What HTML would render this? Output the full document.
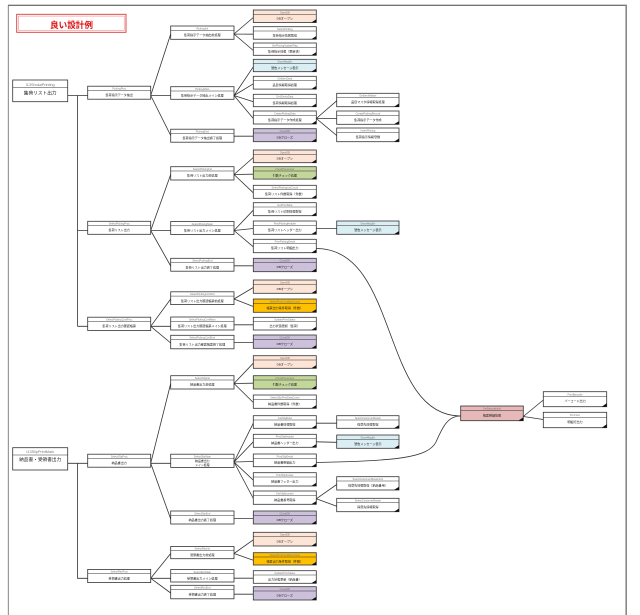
<!DOCTYPE html>
<html><head><meta charset="utf-8">
<style>
html,body{margin:0;padding:0;background:#fff;}
svg{display:block;font-family:"Liberation Sans","Noto Sans CJK JP",sans-serif;}
.r{stroke:#333;stroke-width:.8}
.l{stroke:#333;stroke-width:.8;fill:none}
.s{stroke:#333;stroke-width:.5;fill:none}
.h{font-size:2.6px;fill:#777;text-anchor:middle}
.b{font-size:3.05px;fill:#222;text-anchor:middle}
.t{fill:#111}
</style></head><body>
<svg width="640" height="615" viewBox="0 0 640 615">
<rect width="640" height="615" fill="#fff"/>
<!-- frame -->
<line x1="8" y1="5.2" x2="627" y2="5.2" stroke="#444" stroke-width="1"/>
<line x1="8.3" y1="5" x2="8.3" y2="615" stroke="#777" stroke-width="0.9"/>
<line x1="626.2" y1="5" x2="626.2" y2="615" stroke="#888" stroke-width="1.6"/>

<!-- title -->
<rect x="16.7" y="14.3" width="109.3" height="18" fill="#fff" stroke="#d83a3a" stroke-width="0.9"/>
<rect x="18.5" y="16.1" width="105.7" height="14.4" fill="none" stroke="#e77" stroke-width="0.5"/>
<text x="71.5" y="27.8" font-size="8.6" font-weight="bold" fill="#e01010" text-anchor="middle" font-family="'Liberation Sans','Noto Sans CJK JP',sans-serif">良い設計例</text>

<!-- connectors -->
<g class="l">
<path d="M67.7,95.5H87.7M77.5,95.5V326.3M77.5,230.5H87.7M77.5,326.3H87.7"/>
<path d="M67.7,463.3H87.7M77.5,463.3V578.3H87.7"/>
<!-- L2 -> L3 -->
<path d="M150.7,95.5L170.7,34M150.7,95.5L170.7,95.5M150.7,95.5L170.7,135.5"/>
<path d="M150.7,230.5L170.7,174.5M150.7,230.5L170.7,230.5M150.7,230.5L170.7,266"/>
<path d="M150.7,326.3L170.7,299M150.7,326.3L170.7,326.3M150.7,326.3L170.7,343"/>
<path d="M150.7,463.3L170.7,383.5M150.7,463.3L170.7,463.3M150.7,463.3L170.7,519"/>
<path d="M150.7,578.3L170.7,553.5M150.7,578.3L170.7,578.3M150.7,578.3L170.7,593"/>
<!-- L3 -> L4 -->
<path d="M234,34L253.3,17.5M234,34L253.3,34.2M234,34L253.3,50.5"/>
<path d="M234,95.5L253.3,66.8M234,95.5L253.3,83.8M234,95.5L253.3,101.8M234,95.5L253.3,118.5"/>
<path d="M234,136.2H253.3"/>
<path d="M234,174.5L253.3,157.5M234,174.5L253.3,174.2M234,174.5L253.3,192.8"/>
<path d="M234,230.5L253.3,210.2M234,230.5L253.3,228.5M234,230.5L253.3,246.8"/>
<path d="M234,265.8H253.3"/>
<path d="M234,299L253.3,287.5M234,299L253.3,306.5"/>
<path d="M234,324.8H253.3"/>
<path d="M234,342.5H253.3"/>
<path d="M234,383.5L253.3,363.2M234,383.5L253.3,383.2M234,383.5L253.3,402.5"/>
<path d="M234,462L253.3,423.2M234,462L253.3,441.8M234,462L253.3,461.5M234,462L253.3,480.2M234,462L253.3,498.5"/>
<path d="M234,518.5H253.3"/>
<path d="M234,553.5L253.3,539.8M234,553.5L253.3,560.2"/>
<path d="M234,578.2H253.3"/>
<path d="M234,594.2H253.3"/>
<!-- L4 -> L5 -->
<path d="M316.3,118.5L336.7,100.8M316.3,118.5L336.7,118.5M316.3,118.5L336.7,135.5"/>
<path d="M316.3,228.5H336.7"/>
<path d="M316.3,423.2H336.7"/>
<path d="M316.3,441.8L336.7,442.3"/>
<path d="M316.3,498.8L336.7,484.5M316.3,498.8L336.7,506.3"/>
<!-- curves to pink -->
<path d="M316.3,248.5C400,248.5 380,416 460.7,416"/>
<path d="M316.3,462.5C395,461 428,458 436,442C443,426 448,416 460.7,416"/>
<!-- pink -> L6 -->
<path d="M523.3,416.5L543.3,400M523.3,416.5L543.3,419.5"/>
</g>

<!-- roots -->
<g transform="translate(12.7,80)"><rect class="r" width="55" height="21.7" fill="#fff"/><line class="s" x1="0" y1="7.7" x2="55" y2="7.7"/><text x="27.5" y="5.8" font-size="3.8" fill="#777" text-anchor="middle">I13ShukaPrinting</text><text x="27.5" y="14.3" font-size="4.7" fill="#222" text-anchor="middle">集荷リスト出力</text></g>
<g transform="translate(12.7,447.7)"><rect class="r" width="55" height="22.3" fill="#fff"/><line class="s" x1="0" y1="7.3" x2="55" y2="7.3"/><text x="27.5" y="5.5" font-size="3.8" fill="#777" text-anchor="middle">I13SlipPrintMain</text><text x="27.5" y="13.2" font-size="4.7" fill="#222" text-anchor="middle">納品書・受領書出力</text></g>

<!-- L2 -->
<g transform="translate(87.7,86.2)"><rect class="r" width="63" height="13" fill="#fff"/><line class="s" x1="0" y1="4.2" x2="63" y2="4.2"/><text class="h" x="31.5" y="3.3">PickingProc</text><text class="b" x="31.5" y="9.9">集荷指示データ抽出</text></g>
<g transform="translate(87.7,221.3)"><rect class="r" width="63" height="13" fill="#fff"/><line class="s" x1="0" y1="4.2" x2="63" y2="4.2"/><text class="h" x="31.5" y="3.3">SelectPickingProc</text><text class="b" x="31.5" y="9.9">集荷リスト出力</text></g>
<g transform="translate(87.7,317.2)"><rect class="r" width="63" height="13.3" fill="#fff"/><line class="s" x1="0" y1="4.2" x2="63" y2="4.2"/><text class="h" x="31.5" y="3.3">SelectPickingConfProc</text><text class="b" x="31.5" y="9.9">集荷リスト出力確認帳票</text></g>
<g transform="translate(87.7,454.2)"><rect class="r" width="63" height="13" fill="#fff"/><line class="s" x1="0" y1="4.2" x2="63" y2="4.2"/><text class="h" x="31.5" y="3.3">SelectSlipProc</text><text class="b" x="31.5" y="9.9">納品書出力</text></g>
<g transform="translate(87.7,569.4)"><rect class="r" width="63" height="13.2" fill="#fff"/><line class="s" x1="0" y1="4.2" x2="63" y2="4.2"/><text class="h" x="31.5" y="3.3">SelectRecProc</text><text class="b" x="31.5" y="9.9">受領書出力処理</text></g>

<!-- L3 -->
<g transform="translate(170.7,26)"><rect class="r" width="63.3" height="13.3" fill="#fff"/><line class="s" x1="0" y1="4.3" x2="63.3" y2="4.3"/><text class="h" x="31.6" y="3.3">PickingInit</text><text class="b" x="31.6" y="10">集荷指示データ抽出前処理</text></g>
<g transform="translate(170.7,86.7)"><rect class="r" width="63.3" height="12.6" fill="#fff"/><line class="s" x1="0" y1="4.3" x2="63.3" y2="4.3"/><text class="h" x="31.6" y="3.3">PickingMain</text><text class="b" x="31.6" y="9.8">集荷指示データ抽出メイン処理</text></g>
<g transform="translate(170.7,129.2)"><rect class="r" width="63.3" height="13" fill="#fff"/><line class="s" x1="0" y1="4.3" x2="63.3" y2="4.3"/><text class="h" x="31.6" y="3.3">PickingEnd</text><text class="b" x="31.6" y="10">集荷指示データ抽出終了処理</text></g>
<g transform="translate(170.7,166.7)"><rect class="r" width="63.3" height="13.3" fill="#fff"/><line class="s" x1="0" y1="4.3" x2="63.3" y2="4.3"/><text class="h" x="31.6" y="3.3">SelectPickingInit</text><text class="b" x="31.6" y="10">集荷リスト出力前処理</text></g>
<g transform="translate(170.7,221.5)"><rect class="r" width="63.3" height="13" fill="#fff"/><line class="s" x1="0" y1="4.3" x2="63.3" y2="4.3"/><text class="h" x="31.6" y="3.3">SelectPickingMain</text><text class="b" x="31.6" y="10">集荷リスト出力メイン処理</text></g>
<g transform="translate(170.7,258.3)"><rect class="r" width="63.3" height="12.9" fill="#fff"/><line class="s" x1="0" y1="4.3" x2="63.3" y2="4.3"/><text class="h" x="31.6" y="3.3">SelectPickingEnd</text><text class="b" x="31.6" y="10">集荷リスト出力終了処理</text></g>
<g transform="translate(170.7,291.8)"><rect class="r" width="63.3" height="12.8" fill="#fff"/><line class="s" x1="0" y1="4.3" x2="63.3" y2="4.3"/><text class="h" x="31.6" y="3.3">SelectPickingConfInit</text><text class="b" x="31.6" y="10">集荷リスト出力確認帳票前処理</text></g>
<g transform="translate(170.7,317)"><rect class="r" width="63.3" height="13" fill="#fff"/><line class="s" x1="0" y1="4.3" x2="63.3" y2="4.3"/><text class="h" x="31.6" y="3.3">SelectPickingConfMain</text><text class="b" x="31.6" y="10">集荷リスト出力確認帳票メイン処理</text></g>
<g transform="translate(170.7,335.3)"><rect class="r" width="63.3" height="13.5" fill="#fff"/><line class="s" x1="0" y1="4.3" x2="63.3" y2="4.3"/><text class="h" x="31.6" y="3.3">SelectPickingConfEnd</text><text class="b" x="31.6" y="10">集荷リスト出力確認帳票終了処理</text></g>
<g transform="translate(170.7,375.7)"><rect class="r" width="63.3" height="13.3" fill="#fff"/><line class="s" x1="0" y1="4.3" x2="63.3" y2="4.3"/><text class="h" x="31.6" y="3.3">SelectSlipInit</text><text class="b" x="31.6" y="10">納品書出力前処理</text></g>
<g transform="translate(170.7,454.2)"><rect class="r" width="63.3" height="13.2" fill="#fff"/><line class="s" x1="0" y1="4.1" x2="63.3" y2="4.1"/><text class="h" x="31.6" y="3.2">SelectSlipMain</text><text x="31.6" y="8" font-size="2.9" fill="#222" text-anchor="middle">納品書出力</text><text x="31.6" y="11.6" font-size="2.9" fill="#222" text-anchor="middle">メイン処理</text></g>
<g transform="translate(170.7,511)"><rect class="r" width="63.3" height="13" fill="#fff"/><line class="s" x1="0" y1="4.3" x2="63.3" y2="4.3"/><text class="h" x="31.6" y="3.3">SelectSlipEnd</text><text class="b" x="31.6" y="10">納品書出力終了処理</text></g>
<g transform="translate(170.7,546.5)"><rect class="r" width="63.3" height="12.2" fill="#fff"/><line class="s" x1="0" y1="4" x2="63.3" y2="4"/><text class="h" x="31.6" y="3.2">SelectRecInit</text><text class="b" x="31.6" y="9.4">受領書出力前処理</text></g>
<g transform="translate(170.7,569.5)"><rect class="r" width="63.3" height="12.5" fill="#fff"/><line class="s" x1="0" y1="4.2" x2="63.3" y2="4.2"/><text class="h" x="31.6" y="3.3">SelectRecMain</text><text class="b" x="31.6" y="9.8">受領書出力メイン処理</text></g>
<g transform="translate(170.7,585.3)"><rect class="r" width="63.3" height="13.5" fill="#fff"/><line class="s" x1="0" y1="4.3" x2="63.3" y2="4.3"/><text class="h" x="31.6" y="3.3">SelectRecEnd</text><text class="b" x="31.6" y="10.2">受領書出力終了処理</text></g>

<!-- L4 -->
<g transform="translate(253.3,10)"><rect class="r" width="63" height="12.5" fill="#fce4d6"/><line class="s" x1="0" y1="4.3" x2="63" y2="4.3"/><text class="h" x="31.5" y="3.3">OpenDB</text><text class="b" x="31.5" y="9.6">DBオープン</text><polygon class="t" points="63,12.5 58,12.5 63,9.3"/></g>
<g transform="translate(253.3,26.7)"><rect class="r" width="63" height="12.5" fill="#fff"/><line class="s" x1="0" y1="4.3" x2="63" y2="4.3"/><text class="h" x="31.5" y="3.3">SelectPicking</text><text class="b" x="31.5" y="9.6">集荷指示情報取得</text><polygon class="t" points="63,12.5 58,12.5 63,9.3"/></g>
<g transform="translate(253.3,43)"><rect class="r" width="63" height="12.3" fill="#fff"/><line class="s" x1="0" y1="4.3" x2="63" y2="4.3"/><text class="h" x="31.5" y="3.3">SetPickingUpdateFlag</text><text class="b" x="31.5" y="9.6">集荷指示情報（更新済）</text><polygon class="t" points="63,12.3 58,12.3 63,9.1"/></g>
<g transform="translate(253.3,59.3)"><rect class="r" width="63" height="12.4" fill="#daeef3"/><line class="s" x1="0" y1="4.3" x2="63" y2="4.3"/><text class="h" x="31.5" y="3.3">ShowMsgErr</text><text class="b" x="31.5" y="9.6">警告メッセージ表示</text><polygon class="t" points="63,12.4 58,12.4 63,9.2"/></g>
<g transform="translate(253.3,76.3)"><rect class="r" width="63" height="12.8" fill="#fff"/><line class="s" x1="0" y1="4.3" x2="63" y2="4.3"/><text class="h" x="31.5" y="3.3">GetItemData</text><text class="b" x="31.5" y="9.6">品目情報取得処理</text><polygon class="t" points="63,12.8 58,12.8 63,9.6"/></g>
<g transform="translate(253.3,94.3)"><rect class="r" width="63" height="12.4" fill="#fff"/><line class="s" x1="0" y1="4.3" x2="63" y2="4.3"/><text class="h" x="31.5" y="3.3">GetShukaData</text><text class="b" x="31.5" y="9.6">集荷情報取得処理</text><polygon class="t" points="63,12.4 58,12.4 63,9.2"/></g>
<g transform="translate(253.3,111)"><rect class="r" width="63" height="13" fill="#fff"/><line class="s" x1="0" y1="4.3" x2="63" y2="4.3"/><text class="h" x="31.5" y="3.3">CreatePickingData</text><text class="b" x="31.5" y="9.8">集荷指示データ作成処理</text><polygon class="t" points="63,13 58,13 63,9.8"/></g>
<g transform="translate(253.3,128.7)"><rect class="r" width="63" height="13" fill="#ccc0da"/><line class="s" x1="0" y1="4.3" x2="63" y2="4.3"/><text class="h" x="31.5" y="3.3">CloseDB</text><text class="b" x="31.5" y="9.8">DBクローズ</text><polygon class="t" points="63,13 58,13 63,9.8"/></g>
<g transform="translate(253.3,150)"><rect class="r" width="63" height="12.7" fill="#fce4d6"/><line class="s" x1="0" y1="4.3" x2="63" y2="4.3"/><text class="h" x="31.5" y="3.3">OpenDB</text><text class="b" x="31.5" y="9.7">DBオープン</text><polygon class="t" points="63,12.7 58,12.7 63,9.5"/></g>
<g transform="translate(253.3,166.7)"><rect class="r" width="63" height="12.4" fill="#c4d79b"/><line class="s" x1="0" y1="4.3" x2="63" y2="4.3"/><text class="h" x="31.5" y="3.3">CheckParameter</text><text class="b" x="31.5" y="9.6">引数チェック処理</text><polygon class="t" points="63,12.4 58,12.4 63,9.2"/></g>
<g transform="translate(253.3,185.3)"><rect class="r" width="63" height="13" fill="#fff"/><line class="s" x1="0" y1="4.3" x2="63" y2="4.3"/><text class="h" x="31.5" y="3.3">SelectPickingListCount</text><text class="b" x="31.5" y="9.8">集荷リスト件数取得（件数）</text><polygon class="t" points="63,13 58,13 63,9.8"/></g>
<g transform="translate(253.3,202.7)"><rect class="r" width="63" height="13" fill="#fff"/><line class="s" x1="0" y1="4.3" x2="63" y2="4.3"/><text class="h" x="31.5" y="3.3">GetPrintData</text><text class="b" x="31.5" y="9.8">集荷リスト印刷情報取得</text><polygon class="t" points="63,13 58,13 63,9.8"/></g>
<g transform="translate(253.3,221)"><rect class="r" width="63" height="13.3" fill="#fff"/><line class="s" x1="0" y1="4.3" x2="63" y2="4.3"/><text class="h" x="31.5" y="3.3">PrintPickingHeader</text><text class="b" x="31.5" y="9.9">集荷リストヘッダー出力</text><polygon class="t" points="63,13.3 58,13.3 63,10.1"/></g>
<g transform="translate(253.3,239.3)"><rect class="r" width="63" height="13.4" fill="#fff"/><line class="s" x1="0" y1="4.3" x2="63" y2="4.3"/><text class="h" x="31.5" y="3.3">PrintPickingDetail</text><text class="b" x="31.5" y="9.9">集荷リスト明細出力</text><polygon class="t" points="63,13.4 58,13.4 63,10.2"/></g>
<g transform="translate(253.3,258.3)"><rect class="r" width="63" height="13.4" fill="#ccc0da"/><line class="s" x1="0" y1="4.3" x2="63" y2="4.3"/><text class="h" x="31.5" y="3.3">CloseDB</text><text class="b" x="31.5" y="9.9">DBクローズ</text><polygon class="t" points="63,13.4 58,13.4 63,10.2"/></g>
<g transform="translate(253.3,280)"><rect class="r" width="63" height="13.3" fill="#fce4d6"/><line class="s" x1="0" y1="4.3" x2="63" y2="4.3"/><text class="h" x="31.5" y="3.3">OpenDB</text><text class="b" x="31.5" y="9.9">DBオープン</text><polygon class="t" points="63,13.3 58,13.3 63,10.1"/></g>
<g transform="translate(253.3,299)"><rect class="r" width="63" height="13.3" fill="#ffc000"/><line class="s" x1="0" y1="4.3" x2="63" y2="4.3"/><text class="h" x="31.5" y="3.3">SelectPrintConditionCount</text><text class="b" x="31.5" y="9.9">帳票出力条件取得（件数）</text><polygon class="t" points="63,13.3 58,13.3 63,10.1"/></g>
<g transform="translate(253.3,317.3)"><rect class="r" width="63" height="12.7" fill="#fff"/><line class="s" x1="0" y1="4.3" x2="63" y2="4.3"/><text class="h" x="31.5" y="3.3">UpdatePrintStatus</text><text class="b" x="31.5" y="9.7">出力状態更新（集荷）</text><polygon class="t" points="63,12.7 58,12.7 63,9.5"/></g>
<g transform="translate(253.3,335)"><rect class="r" width="63" height="13.3" fill="#ccc0da"/><line class="s" x1="0" y1="4.3" x2="63" y2="4.3"/><text class="h" x="31.5" y="3.3">CloseDB</text><text class="b" x="31.5" y="9.9">DBクローズ</text><polygon class="t" points="63,13.3 58,13.3 63,10.1"/></g>
<g transform="translate(253.3,355.7)"><rect class="r" width="63" height="12.6" fill="#fce4d6"/><line class="s" x1="0" y1="4.3" x2="63" y2="4.3"/><text class="h" x="31.5" y="3.3">OpenDB</text><text class="b" x="31.5" y="9.7">DBオープン</text><polygon class="t" points="63,12.6 58,12.6 63,9.4"/></g>
<g transform="translate(253.3,375.7)"><rect class="r" width="63" height="13.3" fill="#c4d79b"/><line class="s" x1="0" y1="4.3" x2="63" y2="4.3"/><text class="h" x="31.5" y="3.3">CheckParameter</text><text class="b" x="31.5" y="9.9">引数チェック処理</text><polygon class="t" points="63,13.3 58,13.3 63,10.1"/></g>
<g transform="translate(253.3,395)"><rect class="r" width="63" height="13.3" fill="#fff"/><line class="s" x1="0" y1="4.3" x2="63" y2="4.3"/><text class="h" x="31.5" y="3.3">SelectSlipPrintDataCount</text><text class="b" x="31.5" y="9.9">納品書件数取得（件数）</text><polygon class="t" points="63,13.3 58,13.3 63,10.1"/></g>
<g transform="translate(253.3,415.7)"><rect class="r" width="63" height="12.6" fill="#fff"/><line class="s" x1="0" y1="4.3" x2="63" y2="4.3"/><text class="h" x="31.5" y="3.3">GetSlipData</text><text class="b" x="31.5" y="9.7">納品書情報取得</text><polygon class="t" points="63,12.6 58,12.6 63,9.4"/></g>
<g transform="translate(253.3,434.3)"><rect class="r" width="63" height="13" fill="#fff"/><line class="s" x1="0" y1="4.3" x2="63" y2="4.3"/><text class="h" x="31.5" y="3.3">PrintSlipHeader</text><text class="b" x="31.5" y="9.8">納品書ヘッダー出力</text><polygon class="t" points="63,13 58,13 63,9.8"/></g>
<g transform="translate(253.3,454)"><rect class="r" width="63" height="12.7" fill="#fff"/><line class="s" x1="0" y1="4.3" x2="63" y2="4.3"/><text class="h" x="31.5" y="3.3">PrintSlipDetail</text><text class="b" x="31.5" y="9.7">納品書明細出力</text><polygon class="t" points="63,12.7 58,12.7 63,9.5"/></g>
<g transform="translate(253.3,472.7)"><rect class="r" width="63" height="13.3" fill="#fff"/><line class="s" x1="0" y1="4.3" x2="63" y2="4.3"/><text class="h" x="31.5" y="3.3">PrintSlipFooter</text><text class="b" x="31.5" y="9.9">納品書フッター出力</text><polygon class="t" points="63,13.3 58,13.3 63,10.1"/></g>
<g transform="translate(253.3,491)"><rect class="r" width="63" height="13.3" fill="#fff"/><line class="s" x1="0" y1="4.3" x2="63" y2="4.3"/><text class="h" x="31.5" y="3.3">GetSlipNumber</text><text class="b" x="31.5" y="9.9">納品書番号取得</text><polygon class="t" points="63,13.3 58,13.3 63,10.1"/></g>
<g transform="translate(253.3,511)"><rect class="r" width="63" height="13" fill="#ccc0da"/><line class="s" x1="0" y1="4.3" x2="63" y2="4.3"/><text class="h" x="31.5" y="3.3">CloseDB</text><text class="b" x="31.5" y="9.8">DBクローズ</text><polygon class="t" points="63,13 58,13 63,9.8"/></g>
<g transform="translate(253.3,532.3)"><rect class="r" width="63" height="13.7" fill="#fce4d6"/><line class="s" x1="0" y1="4.3" x2="63" y2="4.3"/><text class="h" x="31.5" y="3.3">OpenDB</text><text class="b" x="31.5" y="10">DBオープン</text><polygon class="t" points="63,13.7 58,13.7 63,10.5"/></g>
<g transform="translate(253.3,552.7)"><rect class="r" width="63" height="12.3" fill="#ffc000"/><line class="s" x1="0" y1="4.3" x2="63" y2="4.3"/><text class="h" x="31.5" y="3.3">SelectPrintConditionCount</text><text class="b" x="31.5" y="9.6">帳票出力条件取得（件数）</text><polygon class="t" points="63,12.3 58,12.3 63,9.1"/></g>
<g transform="translate(253.3,570.7)"><rect class="r" width="63" height="12.6" fill="#fff"/><line class="s" x1="0" y1="4.3" x2="63" y2="4.3"/><text class="h" x="31.5" y="3.3">UpdatePrintStatus</text><text class="b" x="31.5" y="9.7">出力状態更新（納品書）</text><polygon class="t" points="63,12.6 58,12.6 63,9.4"/></g>
<g transform="translate(253.3,586.7)"><rect class="r" width="63" height="13.3" fill="#ccc0da"/><line class="s" x1="0" y1="4.3" x2="63" y2="4.3"/><text class="h" x="31.5" y="3.3">CloseDB</text><text class="b" x="31.5" y="9.9">DBクローズ</text><polygon class="t" points="63,13.3 58,13.3 63,10.1"/></g>

<!-- L5 -->
<g transform="translate(336.7,93.3)"><rect class="r" width="62.3" height="13.4" fill="#fff"/><line class="s" x1="0" y1="4.3" x2="62.3" y2="4.3"/><text class="h" x="31.2" y="3.3">GetItemMaster</text><text class="b" x="31.2" y="9.9">品目マスタ情報取得処理</text><polygon class="t" points="62.3,13.4 57.3,13.4 62.3,10.2"/></g>
<g transform="translate(336.7,111)"><rect class="r" width="62.3" height="13.3" fill="#fff"/><line class="s" x1="0" y1="4.3" x2="62.3" y2="4.3"/><text class="h" x="31.2" y="3.3">CreatePickingRecord</text><text class="b" x="31.2" y="9.9">集荷指示データ作成</text><polygon class="t" points="62.3,13.3 57.3,13.3 62.3,10.1"/></g>
<g transform="translate(336.7,128)"><rect class="r" width="62.3" height="13.7" fill="#fff"/><line class="s" x1="0" y1="4.3" x2="62.3" y2="4.3"/><text class="h" x="31.2" y="3.3">InsertPicking</text><text class="b" x="31.2" y="10">集荷指示情報登録</text><polygon class="t" points="62.3,13.7 57.3,13.7 62.3,10.5"/></g>
<g transform="translate(336.7,221)"><rect class="r" width="62.3" height="13.3" fill="#daeef3"/><line class="s" x1="0" y1="4.3" x2="62.3" y2="4.3"/><text class="h" x="31.2" y="3.3">ShowMsgErr</text><text class="b" x="31.2" y="9.9">警告メッセージ表示</text><polygon class="t" points="62.3,13.3 57.3,13.3 62.3,10.1"/></g>
<g transform="translate(336.7,415.7)"><rect class="r" width="62.3" height="12.6" fill="#fff"/><line class="s" x1="0" y1="4.3" x2="62.3" y2="4.3"/><text class="h" x="31.2" y="3.3">SelectCustomerMaster</text><text class="b" x="31.2" y="9.7">得意先情報取得</text><polygon class="t" points="62.3,12.6 57.3,12.6 62.3,9.4"/></g>
<g transform="translate(336.7,435)"><rect class="r" width="62.3" height="13.3" fill="#daeef3"/><line class="s" x1="0" y1="4.3" x2="62.3" y2="4.3"/><text class="h" x="31.2" y="3.3">ShowMsgErr</text><text class="b" x="31.2" y="9.9">警告メッセージ表示</text><polygon class="t" points="62.3,13.3 57.3,13.3 62.3,10.1"/></g>
<g transform="translate(336.7,476.7)"><rect class="r" width="62.3" height="13.3" fill="#fff"/><line class="s" x1="0" y1="4.3" x2="62.3" y2="4.3"/><text class="h" x="31.2" y="3.3">SelectCustomerMasterInfo</text><text class="b" x="31.2" y="9.9">得意先情報取得（納品書用）</text><polygon class="t" points="62.3,13.3 57.3,13.3 62.3,10.1"/></g>
<g transform="translate(336.7,498.3)"><rect class="r" width="62.3" height="13.4" fill="#fff"/><line class="s" x1="0" y1="4.3" x2="62.3" y2="4.3"/><text class="h" x="31.2" y="3.3">SelectCustomerMaster</text><text class="b" x="31.2" y="9.9">得意先情報取得</text><polygon class="t" points="62.3,13.4 57.3,13.4 62.3,10.2"/></g>

<!-- pink -->
<g transform="translate(460.7,406)"><rect class="r" width="62.6" height="14.7" fill="#e6b8b7"/><line class="s" x1="0" y1="4.7" x2="62.6" y2="4.7"/><text class="h" x="31.3" y="3.6" fill="#555">GetBarcodeInfo</text><text class="b" x="31.3" y="10.3">帳票明細情報</text><polygon class="t" points="62.6,14.7 57.6,14.7 62.6,11.3"/></g>

<!-- L6 -->
<g transform="translate(543.3,391.7)"><rect class="r" width="63.4" height="15" fill="#fff"/><line class="s" x1="0" y1="5" x2="63.4" y2="5"/><text class="h" x="31.7" y="3.8">PrintBarcode</text><text class="b" x="31.7" y="10.5">バーコード出力</text><polygon class="t" points="63.4,15 58.4,15 63.4,11.6"/></g>
<g transform="translate(543.3,412.3)"><rect class="r" width="63.4" height="15.4" fill="#fff"/><line class="s" x1="0" y1="5" x2="63.4" y2="5"/><text class="h" x="31.7" y="3.8">PrintText</text><text class="b" x="31.7" y="10.6">明細行出力</text><polygon class="t" points="63.4,15.4 58.4,15.4 63.4,12"/></g>
</svg>
</body></html>
